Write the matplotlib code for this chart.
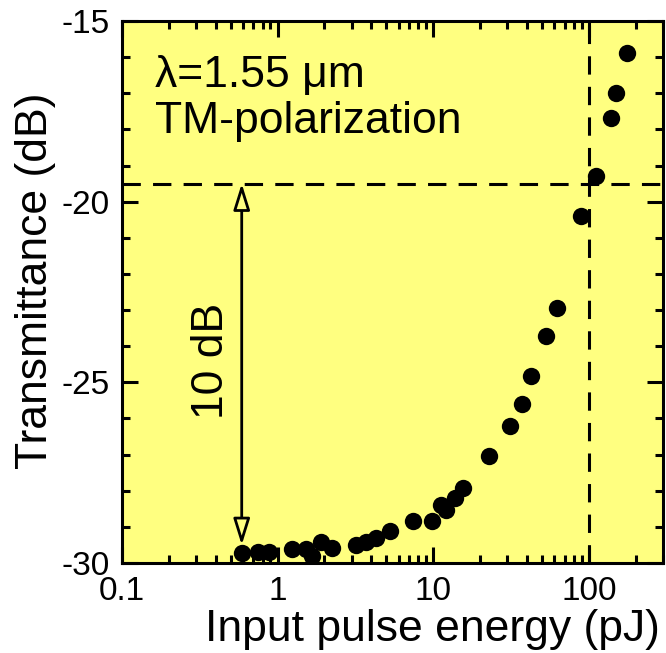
import numpy as np
import matplotlib
matplotlib.use("Agg")
import matplotlib.pyplot as plt
from matplotlib.ticker import LogLocator, MultipleLocator, FixedLocator, FixedFormatter, NullFormatter

plt.rcParams['font.family'] = ['Liberation Sans', 'DejaVu Sans']
plt.rcParams['axes.unicode_minus'] = False

# measured transmittance vs input pulse energy
energy_pj = [0.588, 0.746, 0.875, 1.23, 1.52, 1.66, 1.91, 2.24, 3.17, 3.68,
             4.27, 5.24, 7.43, 9.82, 11.2, 12.1, 13.9, 15.6, 22.7, 31.4,
             37.0, 42.5, 53.3, 62.2, 89.7, 110.5, 138.0, 148.6, 175.0]
trans_db = [-29.72, -29.69, -29.69, -29.62, -29.61, -29.81, -29.41, -29.59, -29.50, -29.41,
            -29.32, -29.12, -28.83, -28.83, -28.40, -28.53, -28.21, -27.92, -27.03, -26.21,
            -25.61, -24.82, -23.71, -22.95, -20.40, -19.29, -17.67, -16.98, -15.88]

ref_energy = 100.0
ref_level = -19.5
arrow_x = 0.588
arrow_lo, arrow_hi = -29.5, -19.5

bg = '#ffff80'

fig = plt.figure(figsize=(6.66, 6.53), dpi=100)
ax = fig.add_axes([0.1832, 0.1378, 0.8123, 0.830])
ax.set_facecolor(bg)

ax.plot(energy_pj, trans_db, 'o', color='black', markersize=12.5, markeredgewidth=0)

ax.axvline(ref_energy, color='black', lw=2.2, linestyle=(0, (6, 4)))
ax.axhline(ref_level, color='black', lw=2.2, linestyle=(0, (6, 4)))

ax.annotate('', xy=(arrow_x, arrow_hi), xytext=(arrow_x, arrow_lo),
            arrowprops=dict(arrowstyle='<|-|>,head_length=0.8,head_width=0.25',
                            fc=bg, ec='black', lw=2, shrinkA=0, shrinkB=0,
                            mutation_scale=20))
ax.text(0.375, -24.4, '10 dB', rotation=90, ha='center', va='center', fontsize=32)

ax.text(0.061, 0.879, 'λ=1.55 μm', transform=ax.transAxes, fontsize=32, va='baseline')
ax.text(0.061, 0.793, 'TM-polarization', transform=ax.transAxes, fontsize=32, va='baseline')

ax.set_xscale('log')
ax.set_xlim(0.1, 300)
ax.set_ylim(-30, -15)

ax.xaxis.set_major_locator(FixedLocator([0.1, 1, 10, 100]))
ax.xaxis.set_major_formatter(FixedFormatter(['0.1', '1', '10', '100']))
ax.xaxis.set_minor_locator(LogLocator(base=10, subs=np.arange(2, 10)))
ax.xaxis.set_minor_formatter(NullFormatter())
ax.yaxis.set_major_locator(MultipleLocator(5))
ax.yaxis.set_minor_locator(MultipleLocator(1))

ax.tick_params(which='both', direction='in', top=True, right=True, width=2.2,
               labelsize=24)
ax.tick_params(which='major', length=11.5, pad=9)
ax.tick_params(which='minor', length=6)
for s in ax.spines.values():
    s.set_linewidth(2.2)

ax.set_xlabel('Input pulse energy (pJ)', fontsize=32, labelpad=0)
ax.xaxis.set_label_coords(0.573, -0.085)
ax.xaxis.label.set_va('top')
ax.set_ylabel('Transmittance (dB)', fontsize=32)
ax.yaxis.set_label_coords(-0.16, 0.52)
ax.yaxis.label.set_va('center')

fig.savefig('out.png', dpi=100)
